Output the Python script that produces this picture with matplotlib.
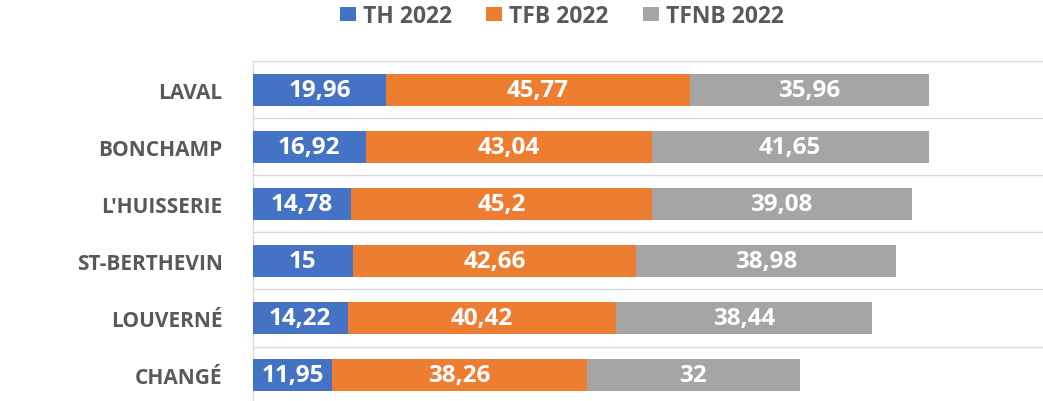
import matplotlib
matplotlib.use("Agg")
import matplotlib.pyplot as plt
from matplotlib.patches import Patch
import numpy as np

categories = ["LAVAL", "BONCHAMP", "L'HUISSERIE", "ST-BERTHEVIN", "LOUVERNÉ", "CHANGÉ"]
th_2022 = [19.96, 16.92, 14.78, 15, 14.22, 11.95]
tfb_2022 = [45.77, 43.04, 45.2, 42.66, 40.42, 38.26]
tfnb_2022 = [35.96, 41.65, 39.08, 38.98, 38.44, 32]
series_names = ["TH 2022", "TFB 2022", "TFNB 2022"]
colors = ["#4472C4", "#ED7D31", "#A5A5A5"]

plt.rcParams['font.family'] = ['Open Sans', 'DejaVu Sans']

W, H = 1043, 402
fig = plt.figure(figsize=(W / 100, H / 100), dpi=100)
top_px, bottom_px, left_px = 62, 404.6, 253
ax = fig.add_axes([left_px / W, 1 - bottom_px / H, 1 - left_px / W, (bottom_px - top_px) / H])

y = np.arange(len(categories))
left = np.zeros(len(categories))
for vals, name, col in zip([th_2022, tfb_2022, tfnb_2022], series_names, colors):
    bars = ax.barh(y, vals, left=left, height=0.56, color=col, label=name, zorder=3)
    labels = [f"{v:g}".replace('.', ',') for v in vals]
    ax.bar_label(bars, labels=labels, label_type='center', color='white',
                 fontsize=17.5, fontweight='bold', zorder=4)
    left += np.array(vals)

ax.set_xlim(0, 118.8)
ax.set_ylim(len(categories) - 0.5, -0.5)
ax.set_yticks(y)
ax.set_yticklabels(categories, fontsize=15, fontweight='bold', color='#595959')
ax.tick_params(axis='y', length=0, pad=22)
ax.set_xticks([])
for b in np.arange(len(categories) + 1) - 0.5:
    ax.axhline(b, color='#D9D9D9', linewidth=1.0, zorder=1)
for s in ['top', 'right', 'bottom']:
    ax.spines[s].set_visible(False)
ax.spines['left'].set_color('#D9D9D9')
ax.spines['left'].set_linewidth(1.0)

handles = [Patch(facecolor=c, edgecolor='none') for c in colors]
leg = fig.legend(handles, series_names, loc='center', bbox_to_anchor=(562 / W, 1 - 17 / H),
                 ncol=3, frameon=False, handlelength=0.7, handleheight=0.6,
                 handletextpad=0.3, columnspacing=1.5,
                 prop={'size': 16.5, 'weight': 'bold'})
for t in leg.get_texts():
    t.set_color('#595959')

fig.savefig("out.png", dpi=100)
